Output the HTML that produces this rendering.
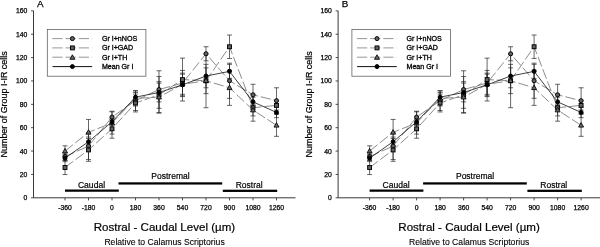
<!DOCTYPE html>
<html><head><meta charset="utf-8"><title>Figure</title>
<style>
html,body{margin:0;padding:0;background:#fff;}
body{width:600px;height:247px;overflow:hidden;}
svg{display:block;filter:blur(0.45px);}
svg text{font-family:"Liberation Sans",sans-serif;fill:#000;stroke:#000;stroke-width:0.3px;}
</style></head><body>
<svg width="600" height="247" viewBox="0 0 600 247">
<rect width="600" height="247" fill="#fff"/>
<g transform="translate(0,0)">
<path d="M33.5 10.85V197.8H295.5" fill="none" stroke="#222" stroke-width="0.9"/>
<path d="M31.0 197.80H33.5" stroke="#222" stroke-width="0.8"/>
<text x="27.3" y="200.30" font-size="6.8" style="stroke-width:0.25px" text-anchor="end">0</text>
<path d="M31.0 174.43H33.5" stroke="#222" stroke-width="0.8"/>
<text x="27.3" y="176.93" font-size="6.8" style="stroke-width:0.25px" text-anchor="end">20</text>
<path d="M31.0 151.06H33.5" stroke="#222" stroke-width="0.8"/>
<text x="27.3" y="153.56" font-size="6.8" style="stroke-width:0.25px" text-anchor="end">40</text>
<path d="M31.0 127.69H33.5" stroke="#222" stroke-width="0.8"/>
<text x="27.3" y="130.19" font-size="6.8" style="stroke-width:0.25px" text-anchor="end">60</text>
<path d="M31.0 104.33H33.5" stroke="#222" stroke-width="0.8"/>
<text x="27.3" y="106.83" font-size="6.8" style="stroke-width:0.25px" text-anchor="end">80</text>
<path d="M31.0 80.96H33.5" stroke="#222" stroke-width="0.8"/>
<text x="27.3" y="83.46" font-size="6.8" style="stroke-width:0.25px" text-anchor="end">100</text>
<path d="M31.0 57.59H33.5" stroke="#222" stroke-width="0.8"/>
<text x="27.3" y="60.09" font-size="6.8" style="stroke-width:0.25px" text-anchor="end">120</text>
<path d="M31.0 34.22H33.5" stroke="#222" stroke-width="0.8"/>
<text x="27.3" y="36.72" font-size="6.8" style="stroke-width:0.25px" text-anchor="end">140</text>
<path d="M31.0 10.85H33.5" stroke="#222" stroke-width="0.8"/>
<text x="27.3" y="13.35" font-size="6.8" style="stroke-width:0.25px" text-anchor="end">160</text>
<path d="M65.00 197.8V200.4" stroke="#222" stroke-width="0.8"/>
<text x="65.00" y="210.30" font-size="6.8" style="stroke-width:0.25px" text-anchor="middle">-360</text>
<path d="M88.50 197.8V200.4" stroke="#222" stroke-width="0.8"/>
<text x="88.50" y="210.30" font-size="6.8" style="stroke-width:0.25px" text-anchor="middle">-180</text>
<path d="M112.00 197.8V200.4" stroke="#222" stroke-width="0.8"/>
<text x="112.00" y="210.30" font-size="6.8" style="stroke-width:0.25px" text-anchor="middle">0</text>
<path d="M135.50 197.8V200.4" stroke="#222" stroke-width="0.8"/>
<text x="135.50" y="210.30" font-size="6.8" style="stroke-width:0.25px" text-anchor="middle">180</text>
<path d="M159.00 197.8V200.4" stroke="#222" stroke-width="0.8"/>
<text x="159.00" y="210.30" font-size="6.8" style="stroke-width:0.25px" text-anchor="middle">360</text>
<path d="M182.50 197.8V200.4" stroke="#222" stroke-width="0.8"/>
<text x="182.50" y="210.30" font-size="6.8" style="stroke-width:0.25px" text-anchor="middle">540</text>
<path d="M206.00 197.8V200.4" stroke="#222" stroke-width="0.8"/>
<text x="206.00" y="210.30" font-size="6.8" style="stroke-width:0.25px" text-anchor="middle">720</text>
<path d="M229.50 197.8V200.4" stroke="#222" stroke-width="0.8"/>
<text x="229.50" y="210.30" font-size="6.8" style="stroke-width:0.25px" text-anchor="middle">900</text>
<path d="M253.00 197.8V200.4" stroke="#222" stroke-width="0.8"/>
<text x="253.00" y="210.30" font-size="6.8" style="stroke-width:0.25px" text-anchor="middle">1080</text>
<path d="M276.50 197.8V200.4" stroke="#222" stroke-width="0.8"/>
<text x="276.50" y="210.30" font-size="6.8" style="stroke-width:0.25px" text-anchor="middle">1260</text>
<text x="164.45" y="231.2" font-size="11.55" style="stroke-width:0.2px" text-anchor="middle">Rostral - Caudal Level (µm)</text>
<text x="164.55" y="244.5" font-size="8.65" style="stroke-width:0.1px" text-anchor="middle">Relative to Calamus Scriptorius</text>
<text transform="translate(7.3,104.40) rotate(-90)" font-size="8.93" style="stroke-width:0.22px" text-anchor="middle">Number of Group I-IR cells</text>
<text x="37.1" y="7.3" font-size="9.8" style="stroke-width:0.25px">A</text>
<rect x="65" y="189.5" width="53.8" height="2.25" fill="#000"/>
<rect x="118.5" y="182.3" width="103.7" height="2.25" fill="#000"/>
<rect x="222.8" y="189.7" width="54.4" height="2.25" fill="#000"/>
<text x="91.5" y="187.6" font-size="8.6" style="stroke-width:0.2px" text-anchor="middle">Caudal</text>
<text x="170.5" y="179.4" font-size="8.5" style="stroke-width:0.2px" text-anchor="middle">Postremal</text>
<text x="249.2" y="187.6" font-size="8.5" style="stroke-width:0.2px" text-anchor="middle">Rostral</text>
<path d="M65.00 153.09V160.13M62.50 153.09h5M62.50 160.13h5" stroke="#262626" stroke-width="0.7" fill="none"/>
<path d="M88.50 132.57V159.54M86.00 132.57h5M86.00 159.54h5" stroke="#262626" stroke-width="0.7" fill="none"/>
<path d="M112.00 111.23V122.96M109.50 111.23h5M109.50 122.96h5" stroke="#262626" stroke-width="0.7" fill="none"/>
<path d="M135.50 90.83V110.53M133.00 90.83h5M133.00 110.53h5" stroke="#262626" stroke-width="0.7" fill="none"/>
<path d="M159.00 70.78V108.30M156.50 70.78h5M156.50 108.30h5" stroke="#262626" stroke-width="0.7" fill="none"/>
<path d="M182.50 70.43V95.76M180.00 70.43h5M180.00 95.76h5" stroke="#262626" stroke-width="0.7" fill="none"/>
<path d="M206.00 46.75V60.82M203.50 46.75h5M203.50 60.82h5" stroke="#262626" stroke-width="0.7" fill="none"/>
<path d="M229.50 63.16V98.34M227.00 63.16h5M227.00 98.34h5" stroke="#262626" stroke-width="0.7" fill="none"/>
<path d="M253.00 84.27V105.37M250.50 84.27h5M250.50 105.37h5" stroke="#262626" stroke-width="0.7" fill="none"/>
<path d="M276.50 87.78V113.58M274.00 87.78h5M274.00 113.58h5" stroke="#262626" stroke-width="0.7" fill="none"/>
<path d="M65.00 160.48V174.55M62.50 160.48h5M62.50 174.55h5" stroke="#262626" stroke-width="0.7" fill="none"/>
<path d="M88.50 138.55V161.30M86.00 138.55h5M86.00 161.30h5" stroke="#262626" stroke-width="0.7" fill="none"/>
<path d="M112.00 119.44V138.20M109.50 119.44h5M109.50 138.20h5" stroke="#262626" stroke-width="0.7" fill="none"/>
<path d="M135.50 94.12V111.94M133.00 94.12h5M133.00 111.94h5" stroke="#262626" stroke-width="0.7" fill="none"/>
<path d="M159.00 76.53V113.11M156.50 76.53h5M156.50 113.11h5" stroke="#262626" stroke-width="0.7" fill="none"/>
<path d="M182.50 58.12V101.03M180.00 58.12h5M180.00 101.03h5" stroke="#262626" stroke-width="0.7" fill="none"/>
<path d="M206.00 67.85V93.65M203.50 67.85h5M203.50 93.65h5" stroke="#262626" stroke-width="0.7" fill="none"/>
<path d="M229.50 35.02V58.47M227.00 35.02h5M227.00 58.47h5" stroke="#262626" stroke-width="0.7" fill="none"/>
<path d="M253.00 94.23V121.20M250.50 94.23h5M250.50 121.20h5" stroke="#262626" stroke-width="0.7" fill="none"/>
<path d="M276.50 100.68V110.06M274.00 100.68h5M274.00 110.06h5" stroke="#262626" stroke-width="0.7" fill="none"/>
<path d="M65.00 145.82V156.38M62.50 145.82h5M62.50 156.38h5" stroke="#262626" stroke-width="0.7" fill="none"/>
<path d="M88.50 119.44V145.24M86.00 119.44h5M86.00 145.24h5" stroke="#262626" stroke-width="0.7" fill="none"/>
<path d="M112.00 111.82V134.10M109.50 111.82h5M109.50 134.10h5" stroke="#262626" stroke-width="0.7" fill="none"/>
<path d="M135.50 90.72V105.96M133.00 90.72h5M133.00 105.96h5" stroke="#262626" stroke-width="0.7" fill="none"/>
<path d="M159.00 81.69V112.64M156.50 81.69h5M156.50 112.64h5" stroke="#262626" stroke-width="0.7" fill="none"/>
<path d="M182.50 74.18V94.35M180.00 74.18h5M180.00 94.35h5" stroke="#262626" stroke-width="0.7" fill="none"/>
<path d="M206.00 53.78V107.72M203.50 53.78h5M203.50 107.72h5" stroke="#262626" stroke-width="0.7" fill="none"/>
<path d="M229.50 70.20V105.37M227.00 70.20h5M227.00 105.37h5" stroke="#262626" stroke-width="0.7" fill="none"/>
<path d="M253.00 104.20V115.92M250.50 104.20h5M250.50 115.92h5" stroke="#262626" stroke-width="0.7" fill="none"/>
<path d="M276.50 114.28V136.33M274.00 114.28h5M274.00 136.33h5" stroke="#262626" stroke-width="0.7" fill="none"/>
<path d="M65.00 154.62V161.65M62.50 154.62h5M62.50 161.65h5" stroke="#262626" stroke-width="0.7" fill="none"/>
<path d="M88.50 137.03V146.41M86.00 137.03h5M86.00 146.41h5" stroke="#262626" stroke-width="0.7" fill="none"/>
<path d="M112.00 118.27V125.30M109.50 118.27h5M109.50 125.30h5" stroke="#262626" stroke-width="0.7" fill="none"/>
<path d="M135.50 92.47V101.85M133.00 92.47h5M133.00 101.85h5" stroke="#262626" stroke-width="0.7" fill="none"/>
<path d="M159.00 83.09V101.85M156.50 83.09h5M156.50 101.85h5" stroke="#262626" stroke-width="0.7" fill="none"/>
<path d="M182.50 73.13V96.58M180.00 73.13h5M180.00 96.58h5" stroke="#262626" stroke-width="0.7" fill="none"/>
<path d="M206.00 64.33V87.78M203.50 64.33h5M203.50 87.78h5" stroke="#262626" stroke-width="0.7" fill="none"/>
<path d="M229.50 64.33V78.40M227.00 64.33h5M227.00 78.40h5" stroke="#262626" stroke-width="0.7" fill="none"/>
<path d="M253.00 97.16V106.54M250.50 97.16h5M250.50 106.54h5" stroke="#262626" stroke-width="0.7" fill="none"/>
<path d="M276.50 107.13V117.68M274.00 107.13h5M274.00 117.68h5" stroke="#262626" stroke-width="0.7" fill="none"/>
<path d="M65.00 156.61 L88.50 146.06 L112.00 117.10 L135.50 100.68 L159.00 89.54 L182.50 83.09 L206.00 53.78 L229.50 80.75 L253.00 94.82 L276.50 100.68" fill="none" stroke="#7c7c7c" stroke-width="0.88" stroke-dasharray="10.3 2.9"/>
<path d="M65.00 167.51 L88.50 149.93 L112.00 128.82 L135.50 103.03 L159.00 94.82 L182.50 79.58 L206.00 80.75 L229.50 46.75 L253.00 107.72 L276.50 105.37" fill="none" stroke="#7c7c7c" stroke-width="0.88" stroke-dasharray="10.3 2.9"/>
<path d="M65.00 151.10 L88.50 132.34 L112.00 122.96 L135.50 98.34 L159.00 97.16 L182.50 84.27 L206.00 80.75 L229.50 87.78 L253.00 110.06 L276.50 125.30" fill="none" stroke="#7c7c7c" stroke-width="0.88" stroke-dasharray="10.3 2.9"/>
<path d="M65.00 158.13 L88.50 141.72 L112.00 121.79 L135.50 97.16 L159.00 92.47 L182.50 84.85 L206.00 76.06 L229.50 71.37 L253.00 101.85 L276.50 112.41" fill="none" stroke="#111" stroke-width="0.8"/>
<circle cx="65.00" cy="156.61" r="2.05" fill="#626262" stroke="#000" stroke-width="0.95"/>
<circle cx="88.50" cy="146.06" r="2.05" fill="#626262" stroke="#000" stroke-width="0.95"/>
<circle cx="112.00" cy="117.10" r="2.05" fill="#626262" stroke="#000" stroke-width="0.95"/>
<circle cx="135.50" cy="100.68" r="2.05" fill="#626262" stroke="#000" stroke-width="0.95"/>
<circle cx="159.00" cy="89.54" r="2.05" fill="#626262" stroke="#000" stroke-width="0.95"/>
<circle cx="182.50" cy="83.09" r="2.05" fill="#626262" stroke="#000" stroke-width="0.95"/>
<circle cx="206.00" cy="53.78" r="2.05" fill="#626262" stroke="#000" stroke-width="0.95"/>
<circle cx="229.50" cy="80.75" r="2.05" fill="#626262" stroke="#000" stroke-width="0.95"/>
<circle cx="253.00" cy="94.82" r="2.05" fill="#626262" stroke="#000" stroke-width="0.95"/>
<circle cx="276.50" cy="100.68" r="2.05" fill="#626262" stroke="#000" stroke-width="0.95"/>
<rect x="63.05" y="165.56" width="3.9" height="3.9" fill="#626262" stroke="#000" stroke-width="0.95"/>
<rect x="86.55" y="147.98" width="3.9" height="3.9" fill="#626262" stroke="#000" stroke-width="0.95"/>
<rect x="110.05" y="126.87" width="3.9" height="3.9" fill="#626262" stroke="#000" stroke-width="0.95"/>
<rect x="133.55" y="101.08" width="3.9" height="3.9" fill="#626262" stroke="#000" stroke-width="0.95"/>
<rect x="157.05" y="92.87" width="3.9" height="3.9" fill="#626262" stroke="#000" stroke-width="0.95"/>
<rect x="180.55" y="77.63" width="3.9" height="3.9" fill="#626262" stroke="#000" stroke-width="0.95"/>
<rect x="204.05" y="78.80" width="3.9" height="3.9" fill="#626262" stroke="#000" stroke-width="0.95"/>
<rect x="227.55" y="44.80" width="3.9" height="3.9" fill="#626262" stroke="#000" stroke-width="0.95"/>
<rect x="251.05" y="105.77" width="3.9" height="3.9" fill="#626262" stroke="#000" stroke-width="0.95"/>
<rect x="274.55" y="103.42" width="3.9" height="3.9" fill="#626262" stroke="#000" stroke-width="0.95"/>
<path d="M65.00 148.40L67.50 152.90H62.50Z" fill="#6a6a6a" stroke="#000" stroke-width="0.85" stroke-linejoin="miter"/>
<path d="M88.50 129.64L91.00 134.14H86.00Z" fill="#6a6a6a" stroke="#000" stroke-width="0.85" stroke-linejoin="miter"/>
<path d="M112.00 120.26L114.50 124.76H109.50Z" fill="#6a6a6a" stroke="#000" stroke-width="0.85" stroke-linejoin="miter"/>
<path d="M135.50 95.64L138.00 100.14H133.00Z" fill="#6a6a6a" stroke="#000" stroke-width="0.85" stroke-linejoin="miter"/>
<path d="M159.00 94.46L161.50 98.96H156.50Z" fill="#6a6a6a" stroke="#000" stroke-width="0.85" stroke-linejoin="miter"/>
<path d="M182.50 81.57L185.00 86.07H180.00Z" fill="#6a6a6a" stroke="#000" stroke-width="0.85" stroke-linejoin="miter"/>
<path d="M206.00 78.05L208.50 82.55H203.50Z" fill="#6a6a6a" stroke="#000" stroke-width="0.85" stroke-linejoin="miter"/>
<path d="M229.50 85.08L232.00 89.58H227.00Z" fill="#6a6a6a" stroke="#000" stroke-width="0.85" stroke-linejoin="miter"/>
<path d="M253.00 107.36L255.50 111.86H250.50Z" fill="#6a6a6a" stroke="#000" stroke-width="0.85" stroke-linejoin="miter"/>
<path d="M276.50 122.60L279.00 127.10H274.00Z" fill="#6a6a6a" stroke="#000" stroke-width="0.85" stroke-linejoin="miter"/>
<circle cx="65.00" cy="158.13" r="2.0" fill="#000" stroke="#000" stroke-width="0.95"/>
<circle cx="88.50" cy="141.72" r="2.0" fill="#000" stroke="#000" stroke-width="0.95"/>
<circle cx="112.00" cy="121.79" r="2.0" fill="#000" stroke="#000" stroke-width="0.95"/>
<circle cx="135.50" cy="97.16" r="2.0" fill="#000" stroke="#000" stroke-width="0.95"/>
<circle cx="159.00" cy="92.47" r="2.0" fill="#000" stroke="#000" stroke-width="0.95"/>
<circle cx="182.50" cy="84.85" r="2.0" fill="#000" stroke="#000" stroke-width="0.95"/>
<circle cx="206.00" cy="76.06" r="2.0" fill="#000" stroke="#000" stroke-width="0.95"/>
<circle cx="229.50" cy="71.37" r="2.0" fill="#000" stroke="#000" stroke-width="0.95"/>
<circle cx="253.00" cy="101.85" r="2.0" fill="#000" stroke="#000" stroke-width="0.95"/>
<circle cx="276.50" cy="112.41" r="2.0" fill="#000" stroke="#000" stroke-width="0.95"/>
<rect x="47.3" y="29.6" width="98.6" height="46.6" fill="#fff" stroke="#5a5a5a" stroke-width="0.75"/>
<path d="M52.3 38.6H92.2" stroke="#7c7c7c" stroke-width="0.8" stroke-dasharray="10.3 2.9" fill="none"/>
<circle cx="72.40" cy="38.60" r="2.05" fill="#626262" stroke="#000" stroke-width="0.95"/>
<text x="101.9" y="41.15" font-size="7.1">Gr I+nNOS</text>
<path d="M52.3 47.9H92.2" stroke="#7c7c7c" stroke-width="0.8" stroke-dasharray="10.3 2.9" fill="none"/>
<rect x="70.45" y="45.95" width="3.9" height="3.9" fill="#626262" stroke="#000" stroke-width="0.95"/>
<text x="101.9" y="50.45" font-size="7.1">Gr I+GAD</text>
<path d="M52.3 57.2H92.2" stroke="#7c7c7c" stroke-width="0.8" stroke-dasharray="10.3 2.9" fill="none"/>
<path d="M72.40 54.80L74.90 59.30H69.90Z" fill="#6a6a6a" stroke="#000" stroke-width="0.85" stroke-linejoin="miter"/>
<text x="101.9" y="59.75" font-size="7.1">Gr I+TH</text>
<path d="M52.5 66.6H92.2" stroke="#111" stroke-width="1" fill="none"/>
<circle cx="72.40" cy="66.60" r="2.0" fill="#000" stroke="#000" stroke-width="0.95"/>
<text x="101.9" y="69.15" font-size="7.1">Mean Gr I</text>
</g>
<g transform="translate(304.6,0)">
<path d="M33.5 10.85V197.8H295.5" fill="none" stroke="#222" stroke-width="0.9"/>
<path d="M31.0 197.80H33.5" stroke="#222" stroke-width="0.8"/>
<text x="27.3" y="200.30" font-size="6.8" style="stroke-width:0.25px" text-anchor="end">0</text>
<path d="M31.0 174.43H33.5" stroke="#222" stroke-width="0.8"/>
<text x="27.3" y="176.93" font-size="6.8" style="stroke-width:0.25px" text-anchor="end">20</text>
<path d="M31.0 151.06H33.5" stroke="#222" stroke-width="0.8"/>
<text x="27.3" y="153.56" font-size="6.8" style="stroke-width:0.25px" text-anchor="end">40</text>
<path d="M31.0 127.69H33.5" stroke="#222" stroke-width="0.8"/>
<text x="27.3" y="130.19" font-size="6.8" style="stroke-width:0.25px" text-anchor="end">60</text>
<path d="M31.0 104.33H33.5" stroke="#222" stroke-width="0.8"/>
<text x="27.3" y="106.83" font-size="6.8" style="stroke-width:0.25px" text-anchor="end">80</text>
<path d="M31.0 80.96H33.5" stroke="#222" stroke-width="0.8"/>
<text x="27.3" y="83.46" font-size="6.8" style="stroke-width:0.25px" text-anchor="end">100</text>
<path d="M31.0 57.59H33.5" stroke="#222" stroke-width="0.8"/>
<text x="27.3" y="60.09" font-size="6.8" style="stroke-width:0.25px" text-anchor="end">120</text>
<path d="M31.0 34.22H33.5" stroke="#222" stroke-width="0.8"/>
<text x="27.3" y="36.72" font-size="6.8" style="stroke-width:0.25px" text-anchor="end">140</text>
<path d="M31.0 10.85H33.5" stroke="#222" stroke-width="0.8"/>
<text x="27.3" y="13.35" font-size="6.8" style="stroke-width:0.25px" text-anchor="end">160</text>
<path d="M65.00 197.8V200.4" stroke="#222" stroke-width="0.8"/>
<text x="65.00" y="210.30" font-size="6.8" style="stroke-width:0.25px" text-anchor="middle">-360</text>
<path d="M88.50 197.8V200.4" stroke="#222" stroke-width="0.8"/>
<text x="88.50" y="210.30" font-size="6.8" style="stroke-width:0.25px" text-anchor="middle">-180</text>
<path d="M112.00 197.8V200.4" stroke="#222" stroke-width="0.8"/>
<text x="112.00" y="210.30" font-size="6.8" style="stroke-width:0.25px" text-anchor="middle">0</text>
<path d="M135.50 197.8V200.4" stroke="#222" stroke-width="0.8"/>
<text x="135.50" y="210.30" font-size="6.8" style="stroke-width:0.25px" text-anchor="middle">180</text>
<path d="M159.00 197.8V200.4" stroke="#222" stroke-width="0.8"/>
<text x="159.00" y="210.30" font-size="6.8" style="stroke-width:0.25px" text-anchor="middle">360</text>
<path d="M182.50 197.8V200.4" stroke="#222" stroke-width="0.8"/>
<text x="182.50" y="210.30" font-size="6.8" style="stroke-width:0.25px" text-anchor="middle">540</text>
<path d="M206.00 197.8V200.4" stroke="#222" stroke-width="0.8"/>
<text x="206.00" y="210.30" font-size="6.8" style="stroke-width:0.25px" text-anchor="middle">720</text>
<path d="M229.50 197.8V200.4" stroke="#222" stroke-width="0.8"/>
<text x="229.50" y="210.30" font-size="6.8" style="stroke-width:0.25px" text-anchor="middle">900</text>
<path d="M253.00 197.8V200.4" stroke="#222" stroke-width="0.8"/>
<text x="253.00" y="210.30" font-size="6.8" style="stroke-width:0.25px" text-anchor="middle">1080</text>
<path d="M276.50 197.8V200.4" stroke="#222" stroke-width="0.8"/>
<text x="276.50" y="210.30" font-size="6.8" style="stroke-width:0.25px" text-anchor="middle">1260</text>
<text x="164.45" y="231.2" font-size="11.55" style="stroke-width:0.2px" text-anchor="middle">Rostral - Caudal Level (µm)</text>
<text x="164.55" y="244.5" font-size="8.65" style="stroke-width:0.1px" text-anchor="middle">Relative to Calamus Scriptorius</text>
<text transform="translate(7.3,104.40) rotate(-90)" font-size="8.93" style="stroke-width:0.22px" text-anchor="middle">Number of Group I-IR cells</text>
<text x="37.1" y="7.3" font-size="9.8" style="stroke-width:0.25px">B</text>
<rect x="65" y="189.5" width="53.8" height="2.25" fill="#000"/>
<rect x="118.5" y="182.3" width="103.7" height="2.25" fill="#000"/>
<rect x="222.8" y="189.7" width="54.4" height="2.25" fill="#000"/>
<text x="91.5" y="187.6" font-size="8.6" style="stroke-width:0.2px" text-anchor="middle">Caudal</text>
<text x="170.5" y="179.4" font-size="8.5" style="stroke-width:0.2px" text-anchor="middle">Postremal</text>
<text x="249.2" y="187.6" font-size="8.5" style="stroke-width:0.2px" text-anchor="middle">Rostral</text>
<path d="M65.00 153.09V160.13M62.50 153.09h5M62.50 160.13h5" stroke="#262626" stroke-width="0.7" fill="none"/>
<path d="M88.50 132.57V159.54M86.00 132.57h5M86.00 159.54h5" stroke="#262626" stroke-width="0.7" fill="none"/>
<path d="M112.00 111.23V122.96M109.50 111.23h5M109.50 122.96h5" stroke="#262626" stroke-width="0.7" fill="none"/>
<path d="M135.50 90.83V110.53M133.00 90.83h5M133.00 110.53h5" stroke="#262626" stroke-width="0.7" fill="none"/>
<path d="M159.00 70.78V108.30M156.50 70.78h5M156.50 108.30h5" stroke="#262626" stroke-width="0.7" fill="none"/>
<path d="M182.50 70.43V95.76M180.00 70.43h5M180.00 95.76h5" stroke="#262626" stroke-width="0.7" fill="none"/>
<path d="M206.00 46.75V60.82M203.50 46.75h5M203.50 60.82h5" stroke="#262626" stroke-width="0.7" fill="none"/>
<path d="M229.50 63.16V98.34M227.00 63.16h5M227.00 98.34h5" stroke="#262626" stroke-width="0.7" fill="none"/>
<path d="M253.00 84.27V105.37M250.50 84.27h5M250.50 105.37h5" stroke="#262626" stroke-width="0.7" fill="none"/>
<path d="M276.50 87.78V113.58M274.00 87.78h5M274.00 113.58h5" stroke="#262626" stroke-width="0.7" fill="none"/>
<path d="M65.00 160.48V174.55M62.50 160.48h5M62.50 174.55h5" stroke="#262626" stroke-width="0.7" fill="none"/>
<path d="M88.50 138.55V161.30M86.00 138.55h5M86.00 161.30h5" stroke="#262626" stroke-width="0.7" fill="none"/>
<path d="M112.00 119.44V138.20M109.50 119.44h5M109.50 138.20h5" stroke="#262626" stroke-width="0.7" fill="none"/>
<path d="M135.50 94.12V111.94M133.00 94.12h5M133.00 111.94h5" stroke="#262626" stroke-width="0.7" fill="none"/>
<path d="M159.00 76.53V113.11M156.50 76.53h5M156.50 113.11h5" stroke="#262626" stroke-width="0.7" fill="none"/>
<path d="M182.50 58.12V101.03M180.00 58.12h5M180.00 101.03h5" stroke="#262626" stroke-width="0.7" fill="none"/>
<path d="M206.00 67.85V93.65M203.50 67.85h5M203.50 93.65h5" stroke="#262626" stroke-width="0.7" fill="none"/>
<path d="M229.50 35.02V58.47M227.00 35.02h5M227.00 58.47h5" stroke="#262626" stroke-width="0.7" fill="none"/>
<path d="M253.00 94.23V121.20M250.50 94.23h5M250.50 121.20h5" stroke="#262626" stroke-width="0.7" fill="none"/>
<path d="M276.50 100.68V110.06M274.00 100.68h5M274.00 110.06h5" stroke="#262626" stroke-width="0.7" fill="none"/>
<path d="M65.00 145.82V156.38M62.50 145.82h5M62.50 156.38h5" stroke="#262626" stroke-width="0.7" fill="none"/>
<path d="M88.50 119.44V145.24M86.00 119.44h5M86.00 145.24h5" stroke="#262626" stroke-width="0.7" fill="none"/>
<path d="M112.00 111.82V134.10M109.50 111.82h5M109.50 134.10h5" stroke="#262626" stroke-width="0.7" fill="none"/>
<path d="M135.50 90.72V105.96M133.00 90.72h5M133.00 105.96h5" stroke="#262626" stroke-width="0.7" fill="none"/>
<path d="M159.00 81.69V112.64M156.50 81.69h5M156.50 112.64h5" stroke="#262626" stroke-width="0.7" fill="none"/>
<path d="M182.50 74.18V94.35M180.00 74.18h5M180.00 94.35h5" stroke="#262626" stroke-width="0.7" fill="none"/>
<path d="M206.00 53.78V107.72M203.50 53.78h5M203.50 107.72h5" stroke="#262626" stroke-width="0.7" fill="none"/>
<path d="M229.50 70.20V105.37M227.00 70.20h5M227.00 105.37h5" stroke="#262626" stroke-width="0.7" fill="none"/>
<path d="M253.00 104.20V115.92M250.50 104.20h5M250.50 115.92h5" stroke="#262626" stroke-width="0.7" fill="none"/>
<path d="M276.50 114.28V136.33M274.00 114.28h5M274.00 136.33h5" stroke="#262626" stroke-width="0.7" fill="none"/>
<path d="M65.00 154.62V161.65M62.50 154.62h5M62.50 161.65h5" stroke="#262626" stroke-width="0.7" fill="none"/>
<path d="M88.50 137.03V146.41M86.00 137.03h5M86.00 146.41h5" stroke="#262626" stroke-width="0.7" fill="none"/>
<path d="M112.00 118.27V125.30M109.50 118.27h5M109.50 125.30h5" stroke="#262626" stroke-width="0.7" fill="none"/>
<path d="M135.50 92.47V101.85M133.00 92.47h5M133.00 101.85h5" stroke="#262626" stroke-width="0.7" fill="none"/>
<path d="M159.00 83.09V101.85M156.50 83.09h5M156.50 101.85h5" stroke="#262626" stroke-width="0.7" fill="none"/>
<path d="M182.50 73.13V96.58M180.00 73.13h5M180.00 96.58h5" stroke="#262626" stroke-width="0.7" fill="none"/>
<path d="M206.00 64.33V87.78M203.50 64.33h5M203.50 87.78h5" stroke="#262626" stroke-width="0.7" fill="none"/>
<path d="M229.50 64.33V78.40M227.00 64.33h5M227.00 78.40h5" stroke="#262626" stroke-width="0.7" fill="none"/>
<path d="M253.00 97.16V106.54M250.50 97.16h5M250.50 106.54h5" stroke="#262626" stroke-width="0.7" fill="none"/>
<path d="M276.50 107.13V117.68M274.00 107.13h5M274.00 117.68h5" stroke="#262626" stroke-width="0.7" fill="none"/>
<path d="M65.00 156.61 L88.50 146.06 L112.00 117.10 L135.50 100.68 L159.00 89.54 L182.50 83.09 L206.00 53.78 L229.50 80.75 L253.00 94.82 L276.50 100.68" fill="none" stroke="#7c7c7c" stroke-width="0.88" stroke-dasharray="10.3 2.9"/>
<path d="M65.00 167.51 L88.50 149.93 L112.00 128.82 L135.50 103.03 L159.00 94.82 L182.50 79.58 L206.00 80.75 L229.50 46.75 L253.00 107.72 L276.50 105.37" fill="none" stroke="#7c7c7c" stroke-width="0.88" stroke-dasharray="10.3 2.9"/>
<path d="M65.00 151.10 L88.50 132.34 L112.00 122.96 L135.50 98.34 L159.00 97.16 L182.50 84.27 L206.00 80.75 L229.50 87.78 L253.00 110.06 L276.50 125.30" fill="none" stroke="#7c7c7c" stroke-width="0.88" stroke-dasharray="10.3 2.9"/>
<path d="M65.00 158.13 L88.50 141.72 L112.00 121.79 L135.50 97.16 L159.00 92.47 L182.50 84.85 L206.00 76.06 L229.50 71.37 L253.00 101.85 L276.50 112.41" fill="none" stroke="#111" stroke-width="0.8"/>
<circle cx="65.00" cy="156.61" r="2.05" fill="#626262" stroke="#000" stroke-width="0.95"/>
<circle cx="88.50" cy="146.06" r="2.05" fill="#626262" stroke="#000" stroke-width="0.95"/>
<circle cx="112.00" cy="117.10" r="2.05" fill="#626262" stroke="#000" stroke-width="0.95"/>
<circle cx="135.50" cy="100.68" r="2.05" fill="#626262" stroke="#000" stroke-width="0.95"/>
<circle cx="159.00" cy="89.54" r="2.05" fill="#626262" stroke="#000" stroke-width="0.95"/>
<circle cx="182.50" cy="83.09" r="2.05" fill="#626262" stroke="#000" stroke-width="0.95"/>
<circle cx="206.00" cy="53.78" r="2.05" fill="#626262" stroke="#000" stroke-width="0.95"/>
<circle cx="229.50" cy="80.75" r="2.05" fill="#626262" stroke="#000" stroke-width="0.95"/>
<circle cx="253.00" cy="94.82" r="2.05" fill="#626262" stroke="#000" stroke-width="0.95"/>
<circle cx="276.50" cy="100.68" r="2.05" fill="#626262" stroke="#000" stroke-width="0.95"/>
<rect x="63.05" y="165.56" width="3.9" height="3.9" fill="#626262" stroke="#000" stroke-width="0.95"/>
<rect x="86.55" y="147.98" width="3.9" height="3.9" fill="#626262" stroke="#000" stroke-width="0.95"/>
<rect x="110.05" y="126.87" width="3.9" height="3.9" fill="#626262" stroke="#000" stroke-width="0.95"/>
<rect x="133.55" y="101.08" width="3.9" height="3.9" fill="#626262" stroke="#000" stroke-width="0.95"/>
<rect x="157.05" y="92.87" width="3.9" height="3.9" fill="#626262" stroke="#000" stroke-width="0.95"/>
<rect x="180.55" y="77.63" width="3.9" height="3.9" fill="#626262" stroke="#000" stroke-width="0.95"/>
<rect x="204.05" y="78.80" width="3.9" height="3.9" fill="#626262" stroke="#000" stroke-width="0.95"/>
<rect x="227.55" y="44.80" width="3.9" height="3.9" fill="#626262" stroke="#000" stroke-width="0.95"/>
<rect x="251.05" y="105.77" width="3.9" height="3.9" fill="#626262" stroke="#000" stroke-width="0.95"/>
<rect x="274.55" y="103.42" width="3.9" height="3.9" fill="#626262" stroke="#000" stroke-width="0.95"/>
<path d="M65.00 148.40L67.50 152.90H62.50Z" fill="#6a6a6a" stroke="#000" stroke-width="0.85" stroke-linejoin="miter"/>
<path d="M88.50 129.64L91.00 134.14H86.00Z" fill="#6a6a6a" stroke="#000" stroke-width="0.85" stroke-linejoin="miter"/>
<path d="M112.00 120.26L114.50 124.76H109.50Z" fill="#6a6a6a" stroke="#000" stroke-width="0.85" stroke-linejoin="miter"/>
<path d="M135.50 95.64L138.00 100.14H133.00Z" fill="#6a6a6a" stroke="#000" stroke-width="0.85" stroke-linejoin="miter"/>
<path d="M159.00 94.46L161.50 98.96H156.50Z" fill="#6a6a6a" stroke="#000" stroke-width="0.85" stroke-linejoin="miter"/>
<path d="M182.50 81.57L185.00 86.07H180.00Z" fill="#6a6a6a" stroke="#000" stroke-width="0.85" stroke-linejoin="miter"/>
<path d="M206.00 78.05L208.50 82.55H203.50Z" fill="#6a6a6a" stroke="#000" stroke-width="0.85" stroke-linejoin="miter"/>
<path d="M229.50 85.08L232.00 89.58H227.00Z" fill="#6a6a6a" stroke="#000" stroke-width="0.85" stroke-linejoin="miter"/>
<path d="M253.00 107.36L255.50 111.86H250.50Z" fill="#6a6a6a" stroke="#000" stroke-width="0.85" stroke-linejoin="miter"/>
<path d="M276.50 122.60L279.00 127.10H274.00Z" fill="#6a6a6a" stroke="#000" stroke-width="0.85" stroke-linejoin="miter"/>
<circle cx="65.00" cy="158.13" r="2.0" fill="#000" stroke="#000" stroke-width="0.95"/>
<circle cx="88.50" cy="141.72" r="2.0" fill="#000" stroke="#000" stroke-width="0.95"/>
<circle cx="112.00" cy="121.79" r="2.0" fill="#000" stroke="#000" stroke-width="0.95"/>
<circle cx="135.50" cy="97.16" r="2.0" fill="#000" stroke="#000" stroke-width="0.95"/>
<circle cx="159.00" cy="92.47" r="2.0" fill="#000" stroke="#000" stroke-width="0.95"/>
<circle cx="182.50" cy="84.85" r="2.0" fill="#000" stroke="#000" stroke-width="0.95"/>
<circle cx="206.00" cy="76.06" r="2.0" fill="#000" stroke="#000" stroke-width="0.95"/>
<circle cx="229.50" cy="71.37" r="2.0" fill="#000" stroke="#000" stroke-width="0.95"/>
<circle cx="253.00" cy="101.85" r="2.0" fill="#000" stroke="#000" stroke-width="0.95"/>
<circle cx="276.50" cy="112.41" r="2.0" fill="#000" stroke="#000" stroke-width="0.95"/>
<rect x="47.3" y="29.6" width="98.6" height="46.6" fill="#fff" stroke="#5a5a5a" stroke-width="0.75"/>
<path d="M52.3 38.6H92.2" stroke="#7c7c7c" stroke-width="0.8" stroke-dasharray="10.3 2.9" fill="none"/>
<circle cx="72.40" cy="38.60" r="2.05" fill="#626262" stroke="#000" stroke-width="0.95"/>
<text x="101.9" y="41.15" font-size="7.1">Gr I+nNOS</text>
<path d="M52.3 47.9H92.2" stroke="#7c7c7c" stroke-width="0.8" stroke-dasharray="10.3 2.9" fill="none"/>
<rect x="70.45" y="45.95" width="3.9" height="3.9" fill="#626262" stroke="#000" stroke-width="0.95"/>
<text x="101.9" y="50.45" font-size="7.1">Gr I+GAD</text>
<path d="M52.3 57.2H92.2" stroke="#7c7c7c" stroke-width="0.8" stroke-dasharray="10.3 2.9" fill="none"/>
<path d="M72.40 54.80L74.90 59.30H69.90Z" fill="#6a6a6a" stroke="#000" stroke-width="0.85" stroke-linejoin="miter"/>
<text x="101.9" y="59.75" font-size="7.1">Gr I+TH</text>
<path d="M52.5 66.6H92.2" stroke="#111" stroke-width="1" fill="none"/>
<circle cx="72.40" cy="66.60" r="2.0" fill="#000" stroke="#000" stroke-width="0.95"/>
<text x="101.9" y="69.15" font-size="7.1">Mean Gr I</text>
</g>
</svg>
</body></html>
